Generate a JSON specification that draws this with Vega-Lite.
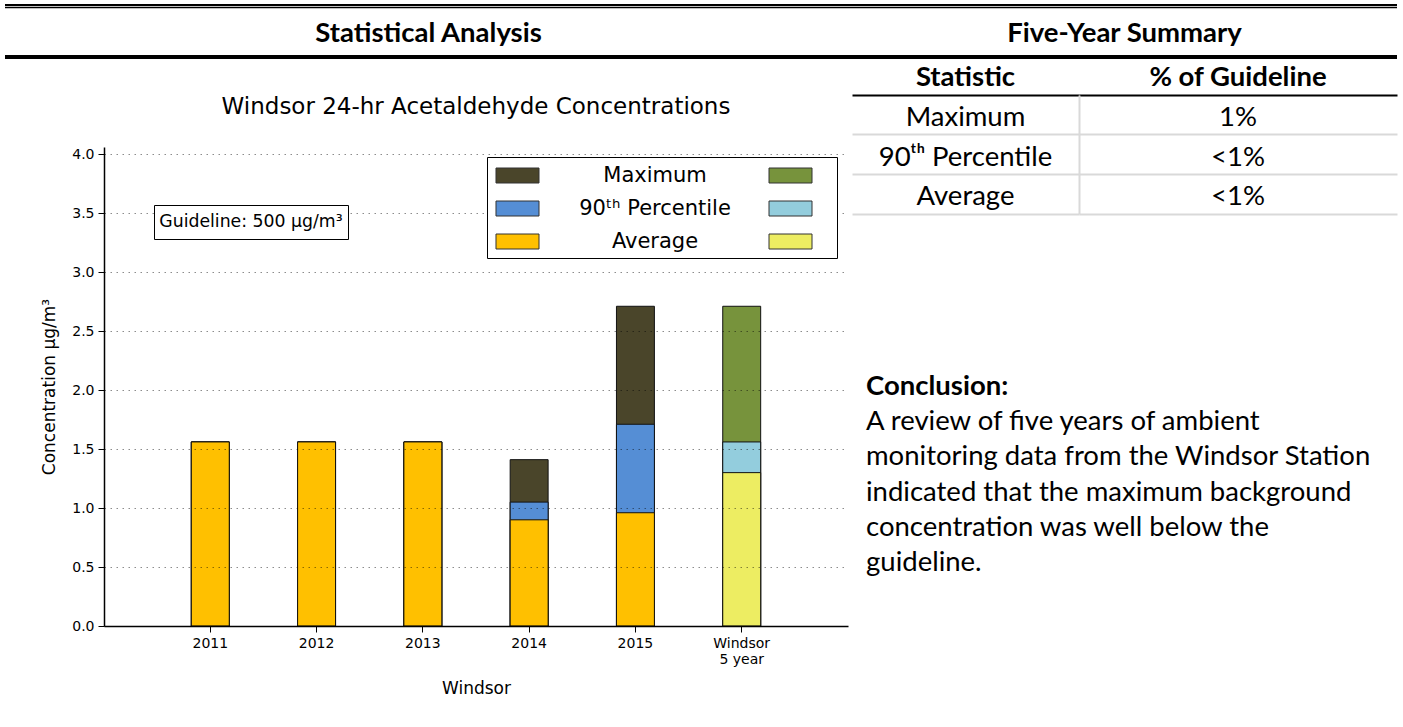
{
  "$schema": "https://vega.github.io/schema/vega-lite/v6.json",
  "background": "white",
  "padding": {"left": 5, "top": 0, "right": 6, "bottom": 0},
  "config": {"view": {"stroke": null}, "font": "Lato"},
  "datasets": {
    "bars": [
      {"period": "2011", "group": "Annual", "statistic": "Maximum", "value": 1.56},
      {"period": "2012", "group": "Annual", "statistic": "Maximum", "value": 1.56},
      {"period": "2013", "group": "Annual", "statistic": "Maximum", "value": 1.56},
      {"period": "2014", "group": "Annual", "statistic": "Maximum", "value": 1.41},
      {"period": "2015", "group": "Annual", "statistic": "Maximum", "value": 2.71},
      {"period": "Windsor 5 year", "group": "Five-year", "statistic": "Maximum", "value": 2.71},
      {"period": "2011", "group": "Annual", "statistic": "90ᵗʰ Percentile", "value": 1.56},
      {"period": "2012", "group": "Annual", "statistic": "90ᵗʰ Percentile", "value": 1.56},
      {"period": "2013", "group": "Annual", "statistic": "90ᵗʰ Percentile", "value": 1.56},
      {"period": "2014", "group": "Annual", "statistic": "90ᵗʰ Percentile", "value": 1.05},
      {"period": "2015", "group": "Annual", "statistic": "90ᵗʰ Percentile", "value": 1.71},
      {"period": "Windsor 5 year", "group": "Five-year", "statistic": "90ᵗʰ Percentile", "value": 1.56},
      {"period": "2011", "group": "Annual", "statistic": "Average", "value": 1.56},
      {"period": "2012", "group": "Annual", "statistic": "Average", "value": 1.56},
      {"period": "2013", "group": "Annual", "statistic": "Average", "value": 1.56},
      {"period": "2014", "group": "Annual", "statistic": "Average", "value": 0.9},
      {"period": "2015", "group": "Annual", "statistic": "Average", "value": 0.96},
      {"period": "Windsor 5 year", "group": "Five-year", "statistic": "Average", "value": 1.3}
    ],
    "table": [
      {"statistic": "Maximum", "percent": "1%"},
      {"statistic": "90ᵗʰ Percentile", "percent": "<1%"},
      {"statistic": "Average", "percent": "<1%"}
    ],
    "conclusion": [
      {"line": 1, "part": "heading", "text": "Conclusion:"},
      {"line": 2, "part": "body", "text": "A review of five years of ambient"},
      {"line": 3, "part": "body", "text": "monitoring data from the Windsor Station"},
      {"line": 4, "part": "body", "text": "indicated that the maximum background"},
      {"line": 5, "part": "body", "text": "concentration was well below the"},
      {"line": 6, "part": "body", "text": "guideline."}
    ]
  },
  "spacing": 0,
  "resolve": {"scale": {"shape": "independent", "color": "independent"}, "legend": {"shape": "independent", "color": "independent"}},
  "hconcat": [
    {
      "spacing": 37,
      "resolve": {"scale": {"shape": "independent", "color": "independent"}, "legend": {"shape": "independent", "color": "independent"}},
      "vconcat": [
        {
          "width": 847, "height": 59,
          "data": {"values": [{"section": "Statistical Analysis"}]},
          "layer": [
            {"mark": {"type": "rect", "color": "#000"}, "encoding": {"y": {"datum": 4, "type": "quantitative", "scale": {"domain": [0, 59], "reverse": true, "nice": false, "zero": false}, "axis": null}, "y2": {"datum": 6.3}}},
            {"mark": {"type": "rect", "color": "#000"}, "encoding": {"y": {"datum": 7, "type": "quantitative", "axis": null}, "y2": {"datum": 8.3}}},
            {"mark": {"type": "rect", "color": "#000"}, "encoding": {"y": {"datum": 55, "type": "quantitative", "axis": null}, "y2": {"datum": 59}}},
            {"mark": {"type": "text", "font": "Lato", "fontSize": 27.5, "fontWeight": "bold", "color": "#000", "baseline": "middle", "dy": 4}, "encoding": {"text": {"field": "section"}}}
          ]
        },
        {
          "spacing": 0,
          "bounds": "flush",
          "resolve": {"scale": {"shape": "independent", "color": "independent"}, "legend": {"shape": "independent", "color": "independent"}},
          "hconcat": [
            {"width": 99, "height": 10, "data": {"values": [{}]}, "mark": {"type": "text"}, "encoding": {"text": {"value": ""}}},
            {
              "width": 744, "height": 479,
              "data": {"name": "bars"},
              "title": {"text": "Windsor 24-hr Acetaldehyde Concentrations", "font": "DejaVu Sans", "fontSize": 23, "fontWeight": "normal", "color": "#000", "anchor": "middle", "frame": "group", "baseline": "alphabetic", "offset": 10},
              "encoding": {
                "x": {
                  "field": "period", "type": "nominal",
                  "scale": {"domain": ["2011", "2012", "2013", "2014", "2015", "Windsor 5 year"], "paddingInner": 0.643, "paddingOuter": 0.8215},
                  "axis": {"title": "Windsor", "labelAngle": 0, "labelFont": "DejaVu Sans", "labelFontSize": 14, "labelColor": "#000", "labelPadding": 4, "labelLineHeight": 16, "tickSize": 6, "tickColor": "#000", "domainColor": "#000", "domainWidth": 1.5, "titleFont": "DejaVu Sans", "titleFontSize": 17, "titleFontWeight": "normal", "titleColor": "#000", "titlePadding": 14, "grid": false, "zindex": 1,
                    "labelExpr": "datum.value == 'Windsor 5 year' ? ['Windsor', '5 year'] : datum.label"}
                },
                "y": {
                  "field": "value", "type": "quantitative", "stack": null,
                  "scale": {"domain": [0, 4.06], "nice": false},
                  "axis": {"title": "Concentration µg/m³", "values": [0, 0.5, 1, 1.5, 2, 2.5, 3, 3.5, 4], "format": ".1f", "labelFont": "DejaVu Sans", "labelFontSize": 14, "labelColor": "#000", "labelPadding": 4, "tickSize": 6, "tickColor": "#000", "domainColor": "#000", "domainWidth": 1.5, "titleFont": "DejaVu Sans", "titleFontSize": 17, "titleFontWeight": "normal", "titleColor": "#000", "titlePadding": 13, "grid": true, "gridColor": "#000", "gridOpacity": 0.45, "gridDash": [1.5, 4.5], "gridWidth": 1, "zindex": 1}
                }
              },
              "layer": [
                {
                  "transform": [{"filter": "datum.group == 'Annual'"}],
                  "mark": {"type": "bar", "stroke": "#111", "strokeWidth": 1},
                  "encoding": {
                    "color": {
                      "field": "statistic", "type": "nominal",
                      "scale": {"domain": ["Maximum", "90ᵗʰ Percentile", "Average"], "range": ["#4a452a", "#558ed5", "#ffc000"]},
                      "legend": {"orient": "none", "legendX": 383, "legendY": 10, "title": null, "zindex": 2, "direction": "vertical",
                        "symbolType": "M-0.792,-0.625H2.792V0.625H-0.792ZM26.88,0L26.88,0", "symbolSize": 576, "symbolStrokeColor": "#333", "symbolStrokeWidth": 1, "symbolOpacity": 1,
                        "labelFont": "DejaVu Sans", "labelFontSize": 21, "labelColor": "#000", "labelAlign": "center", "labelBaseline": "middle", "labelOffset": 137, "labelLimit": 400,
                        "rowPadding": 10, "padding": 6, "strokeColor": "#000", "fillColor": "#fff", "cornerRadius": 0}
                    }
                  }
                },
                {
                  "transform": [{"filter": "datum.group == 'Five-year'"}],
                  "mark": {"type": "bar", "stroke": "#111", "strokeWidth": 1},
                  "encoding": {
                    "color": {
                      "field": "statistic", "type": "nominal",
                      "scale": {"domain": ["Maximum", "90ᵗʰ Percentile", "Average"], "range": ["#77933c", "#93cddd", "#eded62"]},
                      "legend": {"orient": "none", "legendX": 662, "legendY": 16, "title": null, "zindex": 3, "direction": "vertical",
                        "symbolType": "M-0.792,-0.625H2.792V0.625H-0.792Z", "symbolSize": 576, "symbolStrokeColor": "#333", "symbolStrokeWidth": 1, "symbolOpacity": 1,
                        "labelExpr": "' '", "labelFont": "DejaVu Sans", "labelFontSize": 21, "labelBaseline": "middle", "labelOffset": 0.01, "rowPadding": 10, "padding": 0.01}
                    }
                  }
                },
                {
                  "mark": {"type": "point", "opacity": 0},
                  "encoding": {
                    "shape": {"datum": "Guideline: 500 µg/m³", "type": "nominal",
                      "legend": {"orient": "none", "legendX": 50, "legendY": 58, "title": null, "zindex": 2,
                        "symbolSize": 0.01, "symbolOpacity": 0, "symbolStrokeWidth": 0.01,
                        "labelFont": "DejaVu Sans", "labelFontSize": 17.3, "labelColor": "#000", "labelOffset": -17, "labelLimit": 400, "labelBaseline": "middle",
                        "clipHeight": 24, "padding": 5, "strokeColor": "#000", "fillColor": "#fff", "cornerRadius": 0}}
                  }
                }
              ],
              "resolve": {"scale": {"color": "independent"}}
            }
          ]
        }
      ]
    },
    {
      "spacing": 155,
      "vconcat": [
        {
          "spacing": 0,
          "vconcat": [
            {
              "width": 545, "height": 59,
              "data": {"values": [{"section": "Five-Year Summary"}]},
              "layer": [
                {"mark": {"type": "rect", "color": "#000"}, "encoding": {"y": {"datum": 4, "type": "quantitative", "scale": {"domain": [0, 59], "reverse": true, "nice": false, "zero": false}, "axis": null}, "y2": {"datum": 6.3}}},
                {"mark": {"type": "rect", "color": "#000"}, "encoding": {"y": {"datum": 7, "type": "quantitative", "axis": null}, "y2": {"datum": 8.3}}},
                {"mark": {"type": "rect", "color": "#000"}, "encoding": {"y": {"datum": 55, "type": "quantitative", "axis": null}, "y2": {"datum": 59}}},
                {"mark": {"type": "text", "font": "Lato", "fontSize": 27.5, "fontWeight": "bold", "color": "#000", "baseline": "middle", "dy": 4}, "encoding": {"text": {"field": "section"}}}
              ]
            },
            {
              "spacing": 0,
              "bounds": "flush",
              "hconcat": [
                {
                  "width": 227, "height": 36,
                  "data": {"values": [{"heading": "Statistic"}]},
                  "mark": {"type": "text", "font": "Lato", "fontSize": 27.5, "fontWeight": "bold", "color": "#000", "baseline": "middle", "dy": 1},
                  "encoding": {
                    "y": {"field": "heading", "type": "nominal", "bandPosition": 0.5, "scale": {"type": "band", "paddingInner": 0, "paddingOuter": 0},
                      "axis": {"title": null, "labels": false, "ticks": false, "domain": false, "grid": true, "gridColor": "#000", "gridWidth": 2, "bandPosition": 1}},
                    "text": {"field": "heading"}
                  }
                },
                {
                  "width": 318, "height": 36,
                  "data": {"values": [{"heading": "% of Guideline"}]},
                  "mark": {"type": "text", "font": "Lato", "fontSize": 27.5, "fontWeight": "bold", "color": "#000", "baseline": "middle", "dy": 1},
                  "encoding": {
                    "y": {"field": "heading", "type": "nominal", "bandPosition": 0.5, "scale": {"type": "band", "paddingInner": 0, "paddingOuter": 0},
                      "axis": {"title": null, "labels": false, "ticks": false, "domain": false, "grid": true, "gridColor": "#000", "gridWidth": 2, "bandPosition": 1}},
                    "text": {"field": "heading"}
                  }
                }
              ]
            },
            {
              "spacing": 0,
              "bounds": "flush",
              "hconcat": [
                {
                  "width": 227, "height": 119,
                  "data": {"name": "table"},
                  "mark": {"type": "text", "font": "Lato", "fontSize": 27.5, "color": "#000", "baseline": "middle", "dy": 3},
                  "encoding": {
                    "y": {"field": "statistic", "type": "nominal", "sort": null, "bandPosition": 0.5, "scale": {"type": "band", "paddingInner": 0, "paddingOuter": 0},
                      "axis": {"title": null, "labels": false, "ticks": false, "domain": false, "grid": true, "gridColor": "#d9d9d9", "gridWidth": 2, "bandPosition": 1}},
                    "text": {"field": "statistic"}
                  }
                },
                {
                  "width": 318, "height": 119,
                  "data": {"name": "table"},
                  "mark": {"type": "text", "font": "Lato", "fontSize": 27.5, "color": "#000", "baseline": "middle", "dy": 3},
                  "encoding": {
                    "y": {"field": "statistic", "type": "nominal", "sort": null, "bandPosition": 0.5, "scale": {"type": "band", "paddingInner": 0, "paddingOuter": 0},
                      "axis": {"title": null, "labels": false, "ticks": false, "domain": true, "domainColor": "#d9d9d9", "domainWidth": 2, "grid": true, "gridColor": "#d9d9d9", "gridWidth": 2, "bandPosition": 1}},
                    "text": {"field": "percent"}
                  }
                }
              ]
            }
          ]
        },
        {
          "width": 28, "height": 212,
          "data": {"name": "conclusion"},
          "encoding": {
            "y": {"field": "line", "type": "ordinal", "bandPosition": 0.5, "scale": {"type": "band", "paddingInner": 0, "paddingOuter": 0}, "axis": null},
            "text": {"field": "text"}
          },
          "layer": [
            {"transform": [{"filter": "datum.part == 'heading'"}], "mark": {"type": "text", "align": "left", "baseline": "middle", "font": "Lato", "fontSize": 27.5, "fontWeight": "bold", "color": "#000"}},
            {"transform": [{"filter": "datum.part == 'body'"}], "mark": {"type": "text", "align": "left", "baseline": "middle", "font": "Lato", "fontSize": 27.5, "color": "#000"}}
          ]
        }
      ]
    }
  ]
}
